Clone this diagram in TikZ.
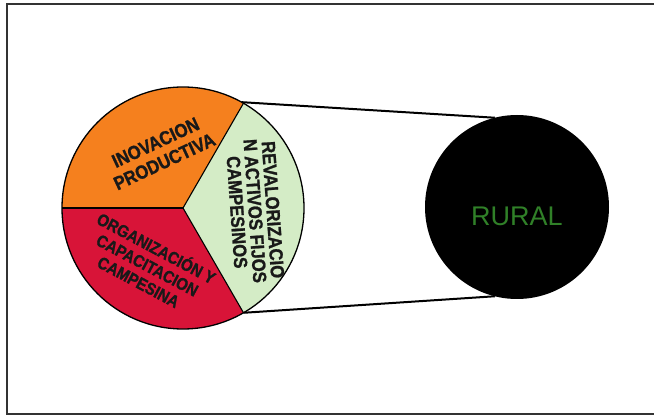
\documentclass[tikz,border=0pt]{standalone}
\usepackage{fontspec}
\setmainfont{Liberation Sans}
\newfontfamily\heavyfont[FakeBold=1.2,FakeStretch=0.88]{Liberation Sans Bold}
\definecolor{pieorange}{RGB}{245,128,30}
\definecolor{piered}{RGB}{216,20,56}
\definecolor{piegreen}{RGB}{212,236,198}
\definecolor{ruralgreen}{RGB}{48,128,40}

\tikzset{
  slicetext/.style={font=\fontsize{19}{19}\heavyfont, align=center, inner sep=0pt, text=black!90},
}

\begin{document}
\begin{tikzpicture}[x=1pt,y=1pt]
  \useasboundingbox (0,0) rectangle (654,418);
  \draw[line width=1.4pt, black!80] (654,4) -- (7,4) -- (7,414) -- (654,414);
  % pie
  \node[circle, minimum size=242pt, inner sep=0pt, outer sep=0pt] (pie) at (183,210) {};
  \fill[pieorange] (pie.center) -- (pie.60) arc (60:180:121) -- cycle;
  \fill[piered] (pie.center) -- (pie.180) arc (180:300:121) -- cycle;
  \fill[piegreen] (pie.center) -- (pie.-60) arc (-60:60:121) -- cycle;
  \foreach \a in {60,180,-60} \draw[line width=1.1pt] (pie.center) -- (pie.\a);
  \draw[line width=1.3pt] (pie.center) circle (121);
  \node[slicetext, font=\fontsize{19}{21}\heavyfont, rotate=25] (inov) at (160,266) {INOVACION\\PRODUCTIVA};
  \node[slicetext, font=\fontsize{19}{18}\heavyfont, rotate=-86] (reval) at (255,207) {REVALORIZACIO\\N ACTIVOS FIJOS\\CAMPESINOS};
  \node[slicetext, font=\fontsize{17}{19}\heavyfont, rotate=-28] (orga) at (148,154) {ORGANIZACIÓN Y\\CAPACITACION\\CAMPESINA};
  % rural
  \node[circle, fill=black, minimum size=184pt, inner sep=0pt, outer sep=0pt] (rural) at (517,211) {};
  \node[text=ruralgreen, font=\fontsize{27}{27}\selectfont] (ruraltext) at ([yshift=-9]rural.center) {RURAL};
  \draw[line width=2pt] (pie.61) -- (rural.104);
  \draw[line width=2pt] (pie.-60) -- (rural.-104);
\end{tikzpicture}
\end{document}
